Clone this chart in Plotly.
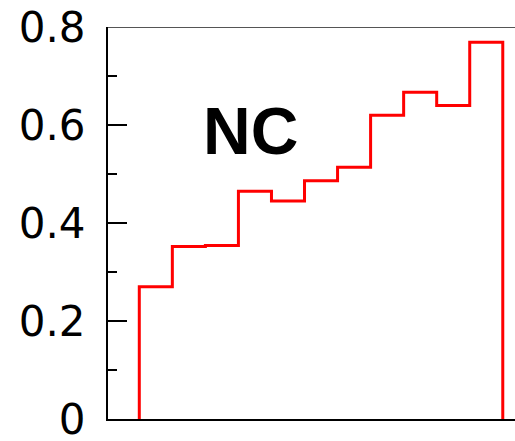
import plotly.graph_objects as go

# Bin edges (11 equal-width bins) and the histogram heights
bin_edges = list(range(12))
heights = [0.270, 0.352, 0.354, 0.465, 0.445, 0.486, 0.514, 0.620, 0.667, 0.640, 0.769]
y_tick_vals = [0, 0.2, 0.4, 0.6, 0.8]
y_tick_text = ["0", "0.2", "0.4", "0.6", "0.8"]
label_text = "NC"

# Closed step outline: up from zero at the first edge, across each bin, down at the last edge
xs = [bin_edges[0]] + bin_edges[:-1] + [bin_edges[-1], bin_edges[-1]]
ys = [0] + heights + [heights[-1], 0]

fig = go.Figure()
fig.add_trace(go.Scatter(
    x=xs, y=ys, mode="lines", line=dict(color="#ff0000", width=3, shape="hv"),
    hoverinfo="skip", showlegend=False,
))

fig.add_annotation(
    x=3.38, y=0.588, xref="x", yref="y", text="<b>%s</b>" % label_text,
    showarrow=False, font=dict(family="Liberation Sans, Arial", size=66, color="black"),
)

# Gray frame line along the top of the plot area
fig.add_shape(type="line", xref="paper", yref="y", x0=0, x1=1, y0=0.8, y1=0.8,
              line=dict(color="#555555", width=2))

fig.update_xaxes(
    range=[-0.947, 11.37], showgrid=False, zeroline=False, showticklabels=False,
    ticks="", showline=True, linecolor="black", linewidth=2, automargin=False,
)
fig.update_yaxes(
    range=[0, 0.8], tickvals=y_tick_vals, ticktext=y_tick_text,
    ticks="inside", ticklen=19, tickwidth=2, tickcolor="black",
    minor=dict(ticks="inside", ticklen=9, tickwidth=2, tickcolor="black", dtick=0.1),
    showgrid=False, zeroline=False, showline=True, linecolor="black", linewidth=2,
    tickfont=dict(family="DejaVu Sans", size=42, color="black"),
    ticklabelstandoff=12, ticklabeloverflow="allow", automargin=False,
)
fig.update_layout(
    width=515, height=441,
    margin=dict(l=108, r=0, t=27, b=22),
    plot_bgcolor="white", paper_bgcolor="white",
)

fig.write_html("out.html")
